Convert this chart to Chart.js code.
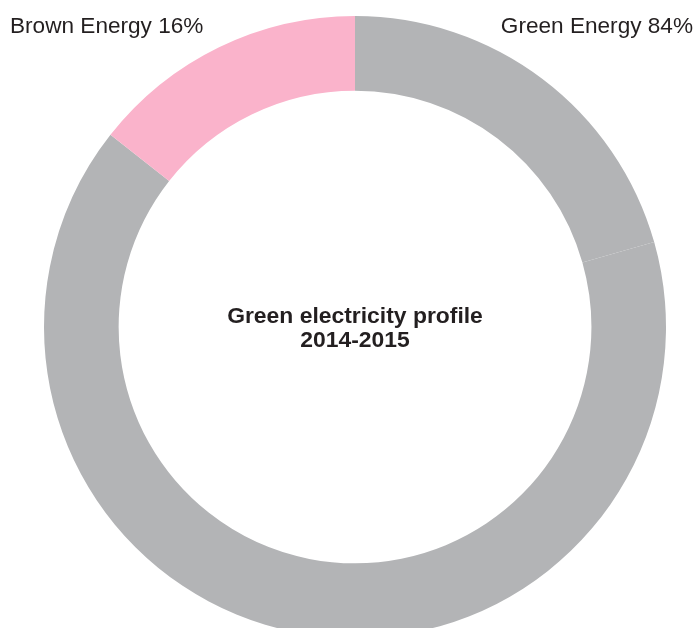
<!DOCTYPE html>
<html>
<head>
<meta charset="utf-8">
<script src="https://cdn.jsdelivr.net/npm/chart.js@4/dist/chart.umd.min.js"></script>
<style>
  html, body { margin: 0; padding: 0; background: #fff; overflow: hidden; }
  #wrap { position: relative; width: 697px; height: 640px; }
</style>
</head>
<body>
<div id="wrap"><canvas id="myChart"></canvas></div>
<script>
// slices as drawn, clockwise from 12 o'clock (green ring is drawn in two pieces)
const categories = ["Green Energy", "Green Energy", "Brown Energy"];
const sliceValues = [20.6, 65.0, 14.4];
const sliceColors = ["#b3b4b6", "#b3b4b6", "#fab3cb"];

// corner labels
const labelNames = ["Brown Energy", "Green Energy"];
const labelPercents = [16, 84];

// centre title
const titleLines = ["Green electricity profile", "2014-2015"];

const textColor = "#231f20";

// draws the corner labels and the centre title
const textPlugin = {
  id: "textPlugin",
  afterDraw(chart) {
    const ctx = chart.ctx;
    const meta = chart.getDatasetMeta(0).data[0];
    ctx.save();
    ctx.fillStyle = textColor;
    ctx.textBaseline = "alphabetic";

    ctx.font = "22.6px 'Liberation Sans', Arial, sans-serif";
    ctx.textAlign = "left";
    ctx.fillText(labelNames[0] + " " + labelPercents[0] + "%", 10, 33);
    ctx.textAlign = "right";
    ctx.fillText(labelNames[1] + " " + labelPercents[1] + "%", 693, 33);

    ctx.font = "bold 22.9px 'Liberation Sans', Arial, sans-serif";
    ctx.textAlign = "center";
    titleLines.forEach(function (line, i) {
      ctx.fillText(line, meta.x, 323 + i * 24);
    });
    ctx.restore();
  },
};

const data = {
  labels: categories,
  datasets: [
    {
      data: sliceValues,
      backgroundColor: sliceColors,
      borderWidth: 0,
    },
  ],
};

const config = {
  type: "doughnut",
  data: data,
  options: {
    responsive: true,
    maintainAspectRatio: false,
    animation: false,
    cutout: "76%",
    layout: { padding: { left: 44, right: 31, top: 16, bottom: 2 } },
    plugins: {
      legend: { display: false },
      tooltip: { enabled: false },
    },
  },
  plugins: [textPlugin],
};

const chart = new Chart(document.getElementById("myChart"), config);
</script>
</body>
</html>
